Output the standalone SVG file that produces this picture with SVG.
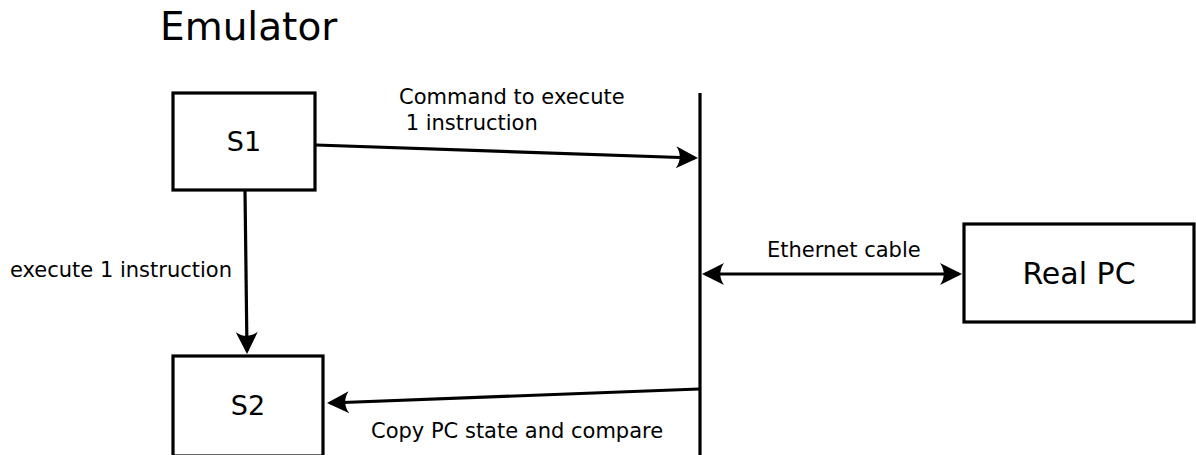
<svg xmlns="http://www.w3.org/2000/svg" width="1196" height="455" viewBox="0 0 1196 455">
  <style>
    .box { fill: #ffffff; stroke: #000000; stroke-width: 3.2; }
    .wire { fill: none; stroke: #000000; stroke-width: 3.2; }
    .lbl { font-family: "DejaVu Sans", "Liberation Sans", sans-serif; fill: #000000; }
    .small { font-size: 21px; }
    .node { font-size: 27px; text-anchor: middle; }
    .big { font-size: 30px; }
  </style>
  <defs>
    <!-- concave arrowhead, tip slightly ahead of the line end -->
    <marker id="head" markerUnits="userSpaceOnUse" markerWidth="30" markerHeight="30" viewBox="-24 -12 30 24" refX="0" refY="0" orient="auto-start-reverse" overflow="visible">
      <path d="M3,0 L-19,-11 C-14,-4 -14,4 -19,11 Z" fill="#000000"/>
    </marker>
  </defs>

  <rect width="1196" height="455" fill="#ffffff"/>

  <text class="lbl" x="160" y="40" style="font-size:39px">Emulator</text>

  <!-- bus line -->
  <g id="bus">
    <line class="wire" x1="700" y1="93" x2="700" y2="455"/>
  </g>

  <g id="connectors">
    <line class="wire" x1="316" y1="145" x2="695" y2="158" marker-end="url(#head)"/>
    <line class="wire" x1="245" y1="191" x2="247" y2="351" marker-end="url(#head)"/>
    <line class="wire" x1="699" y1="389" x2="330" y2="403" marker-end="url(#head)"/>
    <line class="wire" x1="705" y1="274" x2="959" y2="274" marker-start="url(#head)" marker-end="url(#head)"/>
  </g>

  <g id="labels">
    <text class="lbl small" x="399" y="104">Command to execute</text>
    <text class="lbl small" x="399" y="130" xml:space="preserve"> 1 instruction</text>
    <text class="lbl small" x="10" y="277">execute 1 instruction</text>
    <text class="lbl small" x="767" y="257">Ethernet cable</text>
    <text class="lbl small" x="371" y="438">Copy PC state and compare</text>
  </g>

  <g id="s1">
    <rect class="box" x="173" y="93" width="142" height="97"/>
    <text class="lbl node" x="244" y="151">S1</text>
  </g>

  <g id="s2">
    <rect class="box" x="173" y="356" width="150" height="100"/>
    <text class="lbl node" x="248" y="415">S2</text>
  </g>

  <g id="real-pc">
    <rect class="box" x="964" y="224" width="230" height="98"/>
    <text class="lbl node big" x="1079" y="284">Real PC</text>
  </g>
</svg>
